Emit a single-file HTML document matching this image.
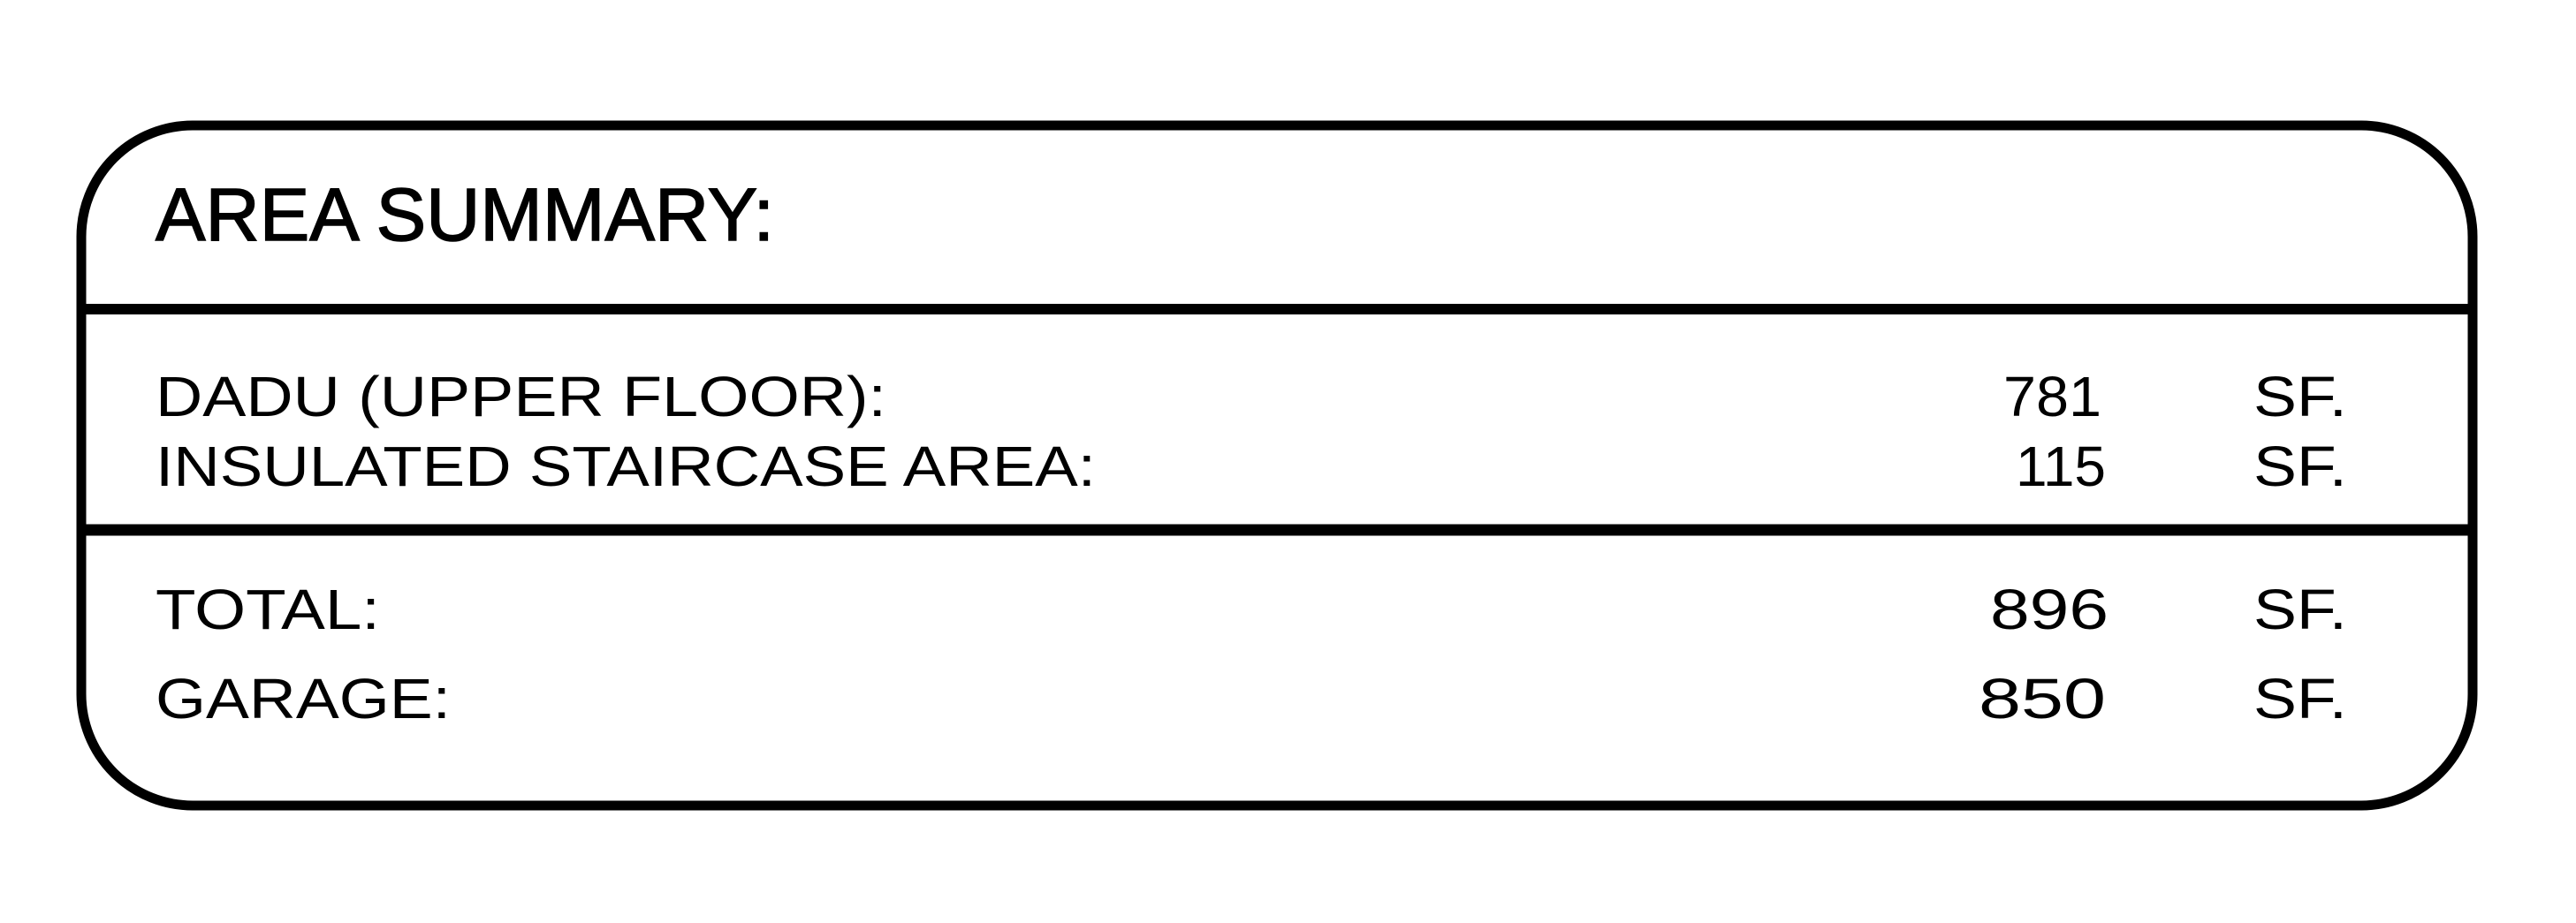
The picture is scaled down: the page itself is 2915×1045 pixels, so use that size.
<!DOCTYPE html>
<html><head><meta charset="utf-8"><style>html,body{margin:0;padding:0;background:#fff}svg{display:block}</style></head>
<body>
<svg width="2915" height="1045" viewBox="0 0 2915 1045" xmlns="http://www.w3.org/2000/svg">
<rect x="0" y="0" width="2915" height="1045" fill="#fff"/>
<rect x="92" y="142" width="2706" height="770" rx="126" ry="126" fill="none" stroke="#000" stroke-width="11"/>
<line x1="92" y1="350" x2="2798" y2="350" stroke="#000" stroke-width="12"/>
<line x1="92" y1="600" x2="2798" y2="600" stroke="#000" stroke-width="13"/>
<g font-family="Liberation Sans, sans-serif" fill="#000">
<text x="176" y="272" font-size="84" textLength="700" lengthAdjust="spacingAndGlyphs" stroke="#000" stroke-width="1.5">AREA SUMMARY:</text>
<g font-size="64">
<text x="176" y="471" textLength="827" lengthAdjust="spacingAndGlyphs">DADU (UPPER FLOOR):</text>
<text x="176" y="550" textLength="1064" lengthAdjust="spacingAndGlyphs">INSULATED STAIRCASE AREA:</text>
<text x="176" y="712" textLength="254" lengthAdjust="spacingAndGlyphs">TOTAL:</text>
<text x="176" y="813" textLength="334" lengthAdjust="spacingAndGlyphs">GARAGE:</text>
<text x="2267" y="471" textLength="111" lengthAdjust="spacingAndGlyphs">781</text>
<text x="2281" y="550" textLength="102" lengthAdjust="spacingAndGlyphs">115</text>
<text x="2252" y="712" textLength="134" lengthAdjust="spacingAndGlyphs">896</text>
<text x="2239" y="813" textLength="144" lengthAdjust="spacingAndGlyphs">850</text>
<text x="2550" y="471" textLength="106" lengthAdjust="spacingAndGlyphs">SF.</text>
<text x="2550" y="550" textLength="106" lengthAdjust="spacingAndGlyphs">SF.</text>
<text x="2550" y="712" textLength="106" lengthAdjust="spacingAndGlyphs">SF.</text>
<text x="2550" y="813" textLength="106" lengthAdjust="spacingAndGlyphs">SF.</text>
</g>
</g>
</svg>
</body></html>
